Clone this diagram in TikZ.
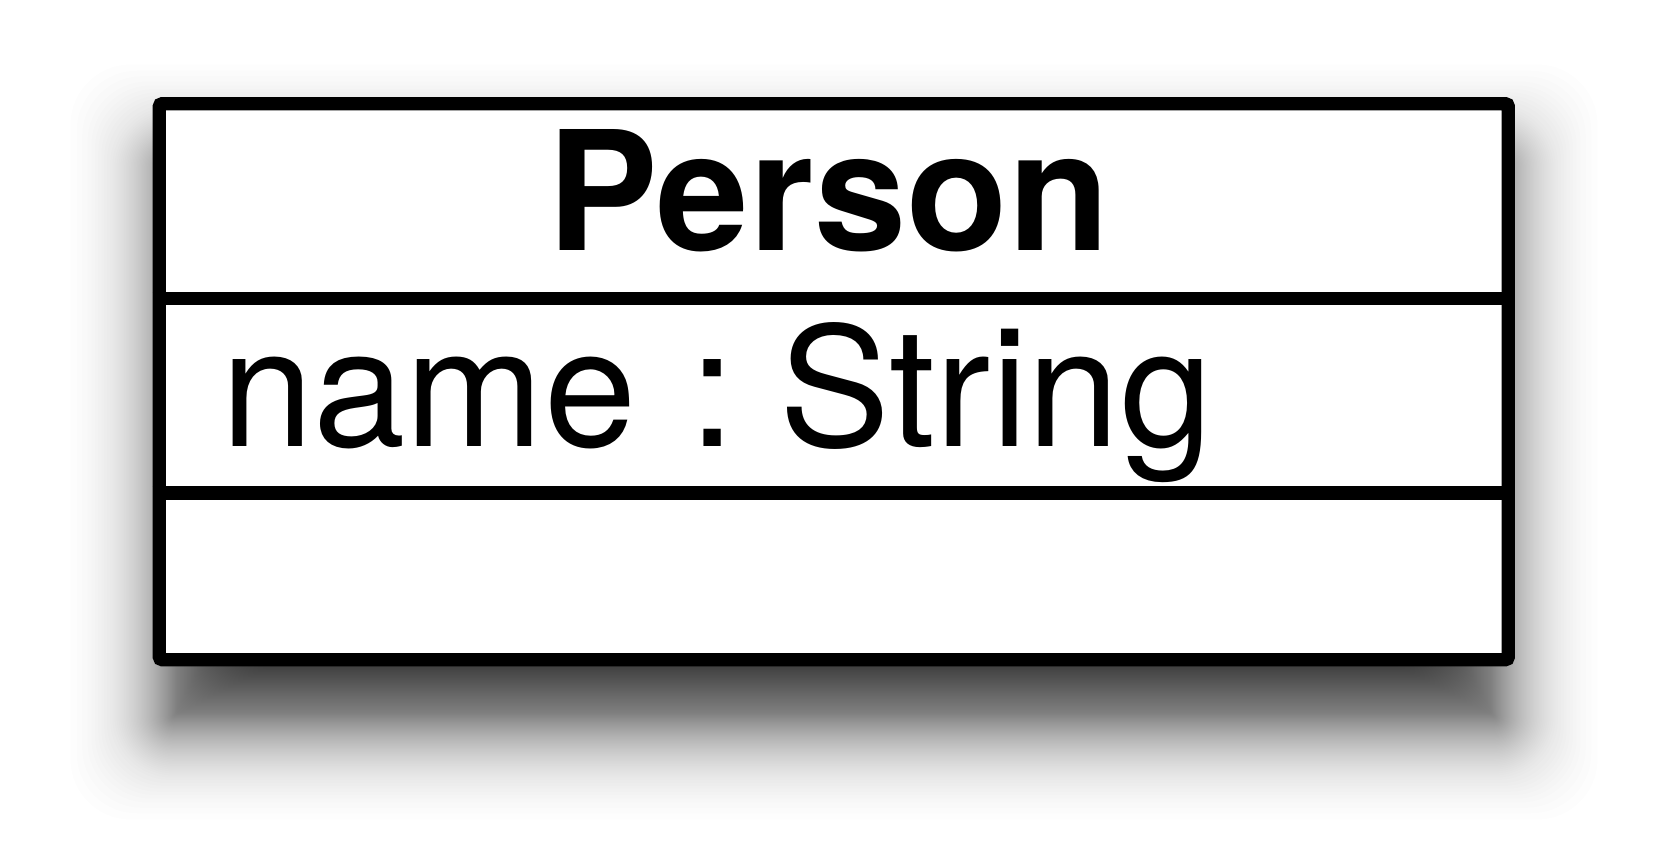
\documentclass[tikz,border=0pt]{standalone}
\usepackage{fontspec}
\setmainfont{TeX Gyre Heros}
\begin{document}
\begin{tikzpicture}[x=0.5pt,y=-0.5pt,
  classbox/.style={draw=black, fill=white, line width=6.65pt, rounded corners=1.5pt,
    minimum width=674.5pt, minimum height=278pt, inner sep=0pt},
  shadowlayer/.style={fill=black, fill opacity=0.008015},
  divider/.style={draw=black, line width=6.65pt},
  titletext/.style={inner sep=0pt, font=\fontsize{83}{90}\selectfont\bfseries},
  attrtext/.style={inner sep=0pt, font=\fontsize{83}{90}\selectfont}]
\fill[white] (0,0) rectangle (1666,861);
\useasboundingbox (0,0) rectangle (1666,861);
% soft drop shadow (stacked translucent layers approximating a gaussian blur)
\foreach \k in {4,...,200}{
  \pgfmathsetmacro\p{(1-0.2^((\k-0.5)/200))/0.8}
  \pgfmathsetmacro\o{-57*4.91*(\p^0.14-(1-\p)^0.14)}
  \pgfmathsetmacro\rr{max(min(abs(\o),60),2)*0.5}
  \pgfmathsetmacro\xa{174-\o}
  \pgfmathsetmacro\ya{168-\o}
  \pgfmathsetmacro\xb{1494+\o}
  \pgfmathsetmacro\yb{716+\o}
  \fill[shadowlayer, rounded corners=\rr pt] (\xa,\ya) rectangle (\xb,\yb);
}
\node[classbox] (box) at (833.8,381.7) {};
\draw[divider] (box.west |- 0,298.3) -- (box.east |- 0,298.3);
\draw[divider] (box.west |- 0,493) -- (box.east |- 0,493);
\node[titletext, anchor=base] (title) at (828.5,250.7) {Person};
\node[attrtext, anchor=base west] (attr) at (221,446) {name\hspace{3.2pt} :\hspace{-8.5pt} String};
\end{tikzpicture}
\end{document}
